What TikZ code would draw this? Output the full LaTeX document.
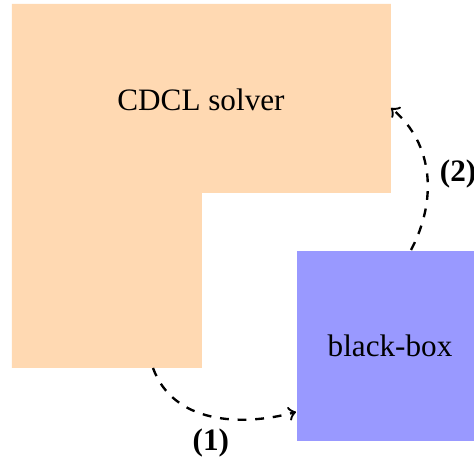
\documentclass[tikz,border=0pt]{standalone}
\usepackage{fontspec}
\setmainfont{Liberation Serif}
\usepackage{tikz}
\usetikzlibrary{positioning}
\pgfmathsetmacro{\pxSize}{0.34}
\tikzset{
	solverpart/.style= {
		fill=orange!30!white, draw=none
	},
	blackbox/.style= {
		shape=rectangle, fill=blue!40!white, draw=none,
		minimum width=188*\pxSize pt, minimum height=190*\pxSize pt,
		inner sep=0, anchor=north west
	},
	call/.style= {
		->, dashed, thick
	},
	steplabel/.style= {
		font=\fontsize{10.6}{12}\selectfont\bfseries, inner sep=1pt
	},
	boxtext/.style= {
		font=\fontsize{10.6}{12}\selectfont
	}
}
\begin{document}
\begin{tikzpicture}[x=\pxSize pt, y=-\pxSize pt]
\useasboundingbox (0,0) rectangle (474,461);
% L-shaped solver area
\fill[solverpart] (12,4) -- (391,4) -- (391,193) -- (202,193) -- (202,368) -- (12,368) -- cycle;
\node[boxtext] (solver) at (201,100) {CDCL solver};
\coordinate (solverOut) at (153,368);
\coordinate (solverIn) at (391,108);

% black box on the right
\node[blackbox] (box) at (296,250) {};
\node[boxtext] (boxText) at (390,346) {black-box};
\coordinate (boxIn) at (296,412);
\coordinate (boxOut) at (411,250);

% calls
\draw[call] (solverOut) to[out=-70,in=195] node[steplabel, pos=0.5, below=3pt] {(1)} (boxIn);
\draw[call] (boxOut) to[out=62,in=-40] node[steplabel, pos=0.5, right=3pt] {(2)} (solverIn);
\end{tikzpicture}
\end{document}
